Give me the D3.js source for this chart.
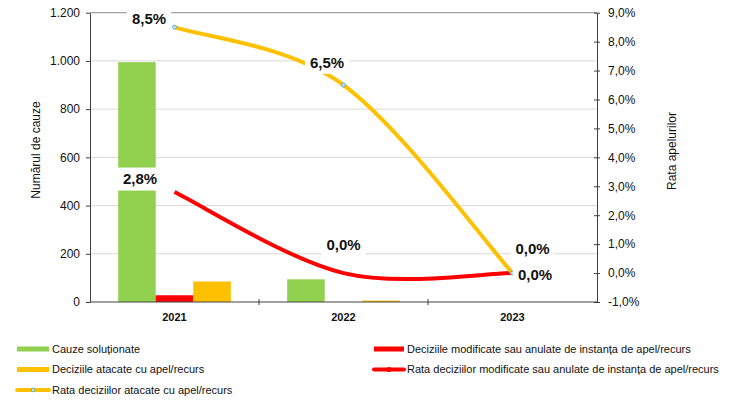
<!DOCTYPE html>
<html>
<head>
<meta charset="utf-8">
<script src="https://cdn.jsdelivr.net/npm/d3@7/dist/d3.min.js"></script>
<style>
  html, body { margin: 0; padding: 0; background: #fff; }
  svg { display: block; font-family: "Liberation Sans", Arial, sans-serif; }
</style>
</head>
<body>
<svg id="chart" width="745" height="401"></svg>
<script>
// Categories and series
const years = ["2021", "2022", "2023"];
const cauzeSolutionate = [995, 94, 0];
const deciziiModificate = [28, 0, 0];
const deciziiAtacate = [85, 6, 0];
const rataAtacate = [0.085, 0.065, 0.0];
const rataModificate = [0.028, 0.0, 0.0];

// Axis ticks
const leftTicks = [0, 200, 400, 600, 800, 1000, 1200];
const rightTicks = [-0.01, 0, 0.01, 0.02, 0.03, 0.04, 0.05, 0.06, 0.07, 0.08, 0.09];

const legendItems = [
  { label: "Cauze soluționate", kind: "rect", color: "#92D050" },
  { label: "Deciziile modificate sau anulate de instanța de apel/recurs", kind: "rect", color: "#FF0000" },
  { label: "Deciziile atacate cu apel/recurs", kind: "rect", color: "#FFC000" },
  { label: "Rata deciziilor modificate sau anulate de instanța de apel/recurs", kind: "line", color: "#FF0000", marker: "#FF0000" },
  { label: "Rata deciziilor atacate cu apel/recurs", kind: "line", color: "#FFC000", marker: "#7fbfdc" }
];

const ro = d3.formatLocale({ decimal: ",", thousands: ".", grouping: [3], currency: ["", " lei"], minus: "-" });
const fmtInt = ro.format(",");
const fmtPct = ro.format(".1%");

// Smooth curve: cubic Bezier through every point, tangents (P[i+1]-P[i-1])/6,
// with end points repeated so the ends follow their first/last chord.
function curveSmooth(context) {
  let pts = [];
  return {
    areaStart() {}, areaEnd() {},
    lineStart() { pts = []; },
    point(x, y) { pts.push([+x, +y]); },
    lineEnd() {
      const n = pts.length;
      if (!n) return;
      context.moveTo(pts[0][0], pts[0][1]);
      const P = i => pts[Math.max(0, Math.min(n - 1, i))];
      for (let i = 0; i < n - 1; i++) {
        const p0 = P(i - 1), p1 = P(i), p2 = P(i + 1), p3 = P(i + 2);
        context.bezierCurveTo(
          p1[0] + (p2[0] - p0[0]) / 6, p1[1] + (p2[1] - p0[1]) / 6,
          p2[0] - (p3[0] - p1[0]) / 6, p2[1] - (p3[1] - p1[1]) / 6,
          p2[0], p2[1]);
      }
    }
  };
}

const svg = d3.select("#chart");
const plot = { left: 90, right: 597, top: 12.7, bottom: 302 };

const x0 = d3.scaleBand().domain(years).range([plot.left, plot.right]).padding(0);
const barSeries = [
  { key: "solutionate", values: cauzeSolutionate, color: "#92D050" },
  { key: "modificate", values: deciziiModificate, color: "#FF0000" },
  { key: "atacate", values: deciziiAtacate, color: "#FFC000" }
];
const x1 = d3.scaleBand().domain(barSeries.map(s => s.key))
  .range([0, x0.bandwidth()]).paddingInner(0).paddingOuter(0.75);

const yL = d3.scaleLinear().domain([0, 1200]).range([plot.bottom, plot.top]);
const yR = d3.scaleLinear().domain([-0.01, 0.09]).range([plot.bottom, plot.top]);

// Gridlines
svg.append("g").selectAll("line").data(leftTicks.filter(t => t > 0)).join("line")
  .attr("x1", plot.left).attr("x2", plot.right)
  .attr("y1", d => yL(d)).attr("y2", d => yL(d))
  .attr("stroke", d => d === 1200 ? "#8c8c8c" : "#d9d9d9").attr("stroke-width", 1);

// Bars
const barG = svg.append("g");
barSeries.forEach(s => {
  barG.selectAll(null).data(years.map((y, i) => ({ y, v: s.values[i] }))).join("rect")
    .attr("x", d => x0(d.y) + x1(s.key))
    .attr("width", x1.bandwidth())
    .attr("y", d => yL(d.v))
    .attr("height", d => yL(0) - yL(d.v))
    .attr("fill", s.color);
});

// Smoothed rate lines
const cx = y => x0(y) + x0.bandwidth() / 2;
const lineGen = d3.line().x(d => cx(d.y)).y(d => yR(d.v)).curve(curveSmooth);
const lineSeries = [
  { key: "rataModificate", values: rataModificate, color: "#FF0000", marker: null },
  { key: "rataAtacate", values: rataAtacate, color: "#FFC000", marker: "#7fbfdc" }
];
lineSeries.forEach(s => {
  const pts = years.map((y, i) => ({ y, v: s.values[i] }));
  svg.append("path").datum(pts)
    .attr("d", lineGen).attr("fill", "none")
    .attr("stroke", s.color).attr("stroke-width", 4).attr("stroke-linejoin", "round");
  if (s.marker) {
    svg.append("g").selectAll("circle").data(pts).join("circle")
      .attr("cx", d => cx(d.y)).attr("cy", d => yR(d.v)).attr("r", 2)
      .attr("fill", "#bfe3f2").attr("stroke", "#4aa3c8").attr("stroke-width", 0.8);
  }
});

// Data labels (offsets relative to each point)
const labelOffsets = {
  rataAtacate: [[-25.5, -8.5], [-16.5, -22.7], [20, -24]],
  rataModificate: [[-34.5, -13], [0, -28], [22.5, 1.5]]
};
const labG = svg.append("g");
lineSeries.forEach(s => {
  years.forEach((y, i) => {
    const v = s.values[i];
    const [dx, dy] = labelOffsets[s.key][i];
    const lx = cx(y) + dx, ly = yR(v) + dy;
    const g = labG.append("g");
    const t = g.append("text").attr("x", lx).attr("y", ly).attr("dy", "0.36em")
      .attr("text-anchor", "middle").attr("font-size", 15).attr("font-weight", "bold")
      .attr("fill", "#111").text(fmtPct(v));
    const w = t.node().getComputedTextLength();
    g.insert("rect", "text").attr("x", lx - w / 2 - 5).attr("y", ly - 11.5)
      .attr("width", w + 10).attr("height", 23).attr("fill", "#fff");
  });
});

// Left axis
const axL = svg.append("g").attr("transform", `translate(${plot.left},0)`)
  .call(d3.axisLeft(yL).tickValues(leftTicks).tickFormat(fmtInt).tickSize(4).tickSizeOuter(0).tickPadding(6));
axL.select(".domain").attr("stroke", "#404040");
axL.selectAll(".tick line").attr("stroke", "#404040");
axL.selectAll(".tick text").attr("font-size", 12).attr("fill", "#111").attr("font-family", null);

// Right axis (ticks crossing the line)
const axR = svg.append("g").attr("transform", `translate(${plot.right},0)`)
  .call(d3.axisRight(yR).tickValues(rightTicks).tickFormat(fmtPct).tickSize(3).tickSizeOuter(0).tickPadding(8));
axR.select(".domain").attr("stroke", "#404040");
axR.selectAll(".tick line").attr("x1", -3).attr("stroke", "#404040");
axR.selectAll(".tick text").attr("font-size", 12).attr("fill", "#111").attr("font-family", null);

// Category axis
const xBounds = d3.range(years.length + 1).map(i => plot.left + i * x0.step());
svg.append("line").attr("x1", plot.left).attr("x2", plot.right)
  .attr("y1", plot.bottom).attr("y2", plot.bottom).attr("stroke", "#404040");
svg.append("g").selectAll("line").data(xBounds.slice(1, -1)).join("line")
  .attr("x1", d => d).attr("x2", d => d).attr("y1", plot.bottom - 3).attr("y2", plot.bottom + 3)
  .attr("stroke", "#404040");
svg.append("g").selectAll("text").data(years).join("text")
  .attr("x", d => cx(d)).attr("y", 321).attr("text-anchor", "middle")
  .attr("font-size", 11).attr("font-weight", "bold").attr("fill", "#111").text(d => d);

// Axis titles
svg.append("text").attr("transform", "translate(40,150) rotate(-90)")
  .attr("text-anchor", "middle").attr("font-size", 12).attr("fill", "#111").text("Numărul de cauze");
svg.append("text").attr("transform", "translate(676,151) rotate(-90)")
  .attr("text-anchor", "middle").attr("font-size", 12).attr("fill", "#111").text("Rata apelurilor");

// Legend
const legPos = [[17, 349], [374, 349], [17, 369.5], [374, 369.5], [17, 390]];
const legG = svg.append("g");
legendItems.forEach((it, i) => {
  const [lx, ly] = legPos[i];
  const sw = i % 2 === 0 ? 32 : 30;
  if (it.kind === "rect") {
    legG.append("rect").attr("x", lx).attr("y", ly - 2.5).attr("width", sw).attr("height", 5).attr("fill", it.color);
  } else {
    legG.append("line").attr("x1", lx).attr("x2", lx + sw).attr("y1", ly).attr("y2", ly)
      .attr("stroke", it.color).attr("stroke-width", 4).attr("stroke-linecap", "round");
    if (it.marker === "#FF0000") {
      legG.append("circle").attr("cx", lx + sw / 2).attr("cy", ly).attr("r", 2.6).attr("fill", it.color);
    } else {
      legG.append("circle").attr("cx", lx + sw / 2).attr("cy", ly).attr("r", 1.8)
        .attr("fill", "#bfe3f2").attr("stroke", "#4aa3c8").attr("stroke-width", 0.8);
    }
  }
  legG.append("text").attr("x", lx + sw + 3).attr("y", ly).attr("dy", "0.35em")
    .attr("font-size", 11).attr("fill", "#111").text(it.label);
});
</script>
</body>
</html>
